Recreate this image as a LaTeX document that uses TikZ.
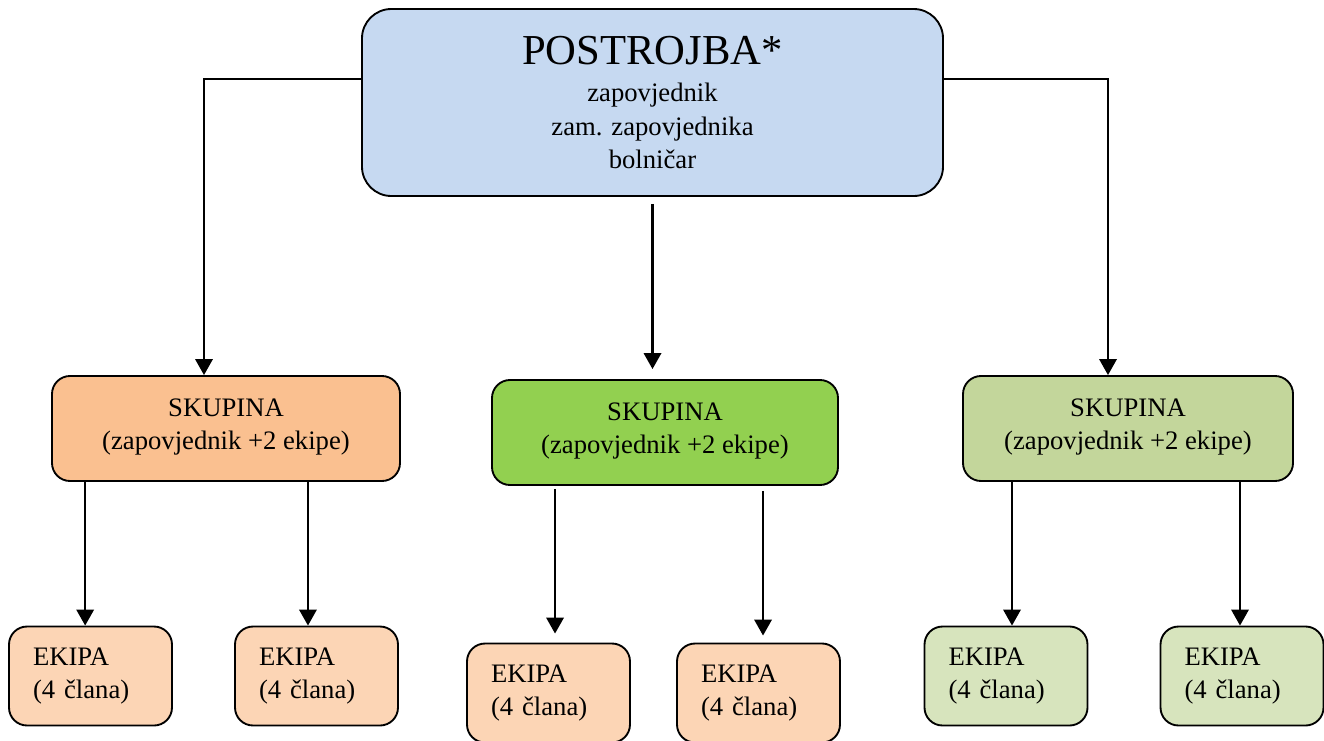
\documentclass[tikz,border=0pt]{standalone}
\usepackage{fontspec}
\setmainfont{Liberation Serif}
\usepackage{xcolor}
\usetikzlibrary{arrows.meta}
\definecolor{topblue}{HTML}{C6D9F1}
\definecolor{skorange}{HTML}{FAC090}
\definecolor{skgreen}{HTML}{92D050}
\definecolor{skolive}{HTML}{C3D69B}
\definecolor{ekorange}{HTML}{FCD5B5}
\definecolor{ekolive}{HTML}{D7E4BD}

\begin{document}
\begin{tikzpicture}[x=0.75pt,y=-0.75pt,
  skbox/.style={draw,line width=1.4pt,rounded corners=13.5pt,inner sep=0pt,
    minimum height=78.75pt,align=center,font=\fontsize{20}{25}\selectfont},
  ekbox/.style={draw,line width=1.4pt,rounded corners=13.5pt,inner xsep=18pt,
    inner ysep=0pt,text width=86.25pt,minimum height=74.25pt,align=left,
    font=\fontsize{20}{25}\selectfont},
  arr/.style={line width=1.8pt,-{Triangle[width=13pt,length=12pt]}}]
\useasboundingbox (0,0) rectangle (1324,740);

% glavna postrojba
\node[draw,line width=1.4pt,rounded corners=22pt,fill=topblue,inner sep=0pt,
  minimum width=435.75pt,minimum height=140.25pt,align=center,
  font=\fontsize{20}{25}\selectfont] (top) at (652.5,102.5)
  {{\fontsize{32}{36}\selectfont POSTROJBA*}\\[3pt]zapovjednik\\zam. zapovjednika\\bolničar};

% skupine
\node[skbox,fill=skorange,minimum width=261pt] (sk1) at (226,428.5)
  {SKUPINA\\(zapovjednik +2 ekipe)\\[-18pt]};
\node[skbox,fill=skgreen,minimum width=259.5pt] (sk2) at (665,432.5)
  {SKUPINA\\(zapovjednik +2 ekipe)\\[-18pt]};
\node[skbox,fill=skolive,minimum width=247.5pt] (sk3) at (1128,428.5)
  {SKUPINA\\(zapovjednik +2 ekipe)\\[-18pt]};

% ekipe
\node[ekbox,fill=ekorange] (ek1) at (90.5,676) {EKIPA\\(4 člana)};
\node[ekbox,fill=ekorange] (ek2) at (316.5,676) {EKIPA\\(4 člana)};
\node[ekbox,fill=ekorange] (ek3) at (548.5,693) {EKIPA\\(4 člana)};
\node[ekbox,fill=ekorange] (ek4) at (758.5,693) {EKIPA\\(4 člana)};
\node[ekbox,fill=ekolive] (ek5) at (1006,676) {EKIPA\\(4 člana)};
\node[ekbox,fill=ekolive] (ek6) at (1242,676) {EKIPA\\(4 člana)};

% veze
\draw[arr] ([yshift=17.6pt]top.west) -| ([xshift=-16.5pt]sk1.north);
\draw[arr] ([yshift=17.6pt]top.east) -| ([xshift=-15pt]sk3.north);
\draw[arr] ([yshift=-5.25pt]top.south) -- ([yshift=7.5pt]top.south |- sk2.north);

\draw[arr] ([xshift=-4pt]ek1.north |- sk1.south) -- ([xshift=-4pt]ek1.north);
\draw[arr] ([xshift=-6.4pt]ek2.north |- sk1.south) -- ([xshift=-6.4pt]ek2.north);
\draw[arr] ([xshift=4.9pt,yshift=-2.25pt]ek3.north |- sk2.south) -- ([xshift=4.9pt,yshift=6.75pt]ek3.north);
\draw[arr] ([xshift=3.4pt,yshift=-3.75pt]ek4.north |- sk2.south) -- ([xshift=3.4pt,yshift=5.25pt]ek4.north);
\draw[arr] ([xshift=4.5pt]ek5.north |- sk3.south) -- ([xshift=4.5pt]ek5.north);
\draw[arr] ([xshift=-1.5pt]ek6.north |- sk3.south) -- ([xshift=-1.5pt]ek6.north);
\end{tikzpicture}
\end{document}
